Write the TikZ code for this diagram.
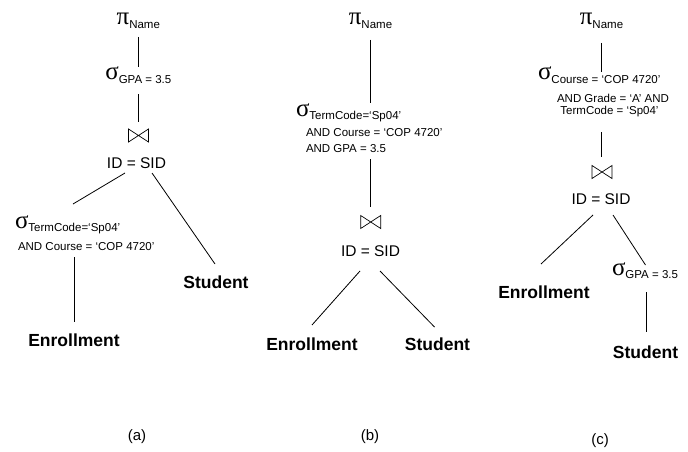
\documentclass[tikz,border=0pt]{standalone}
\usepackage{fontspec}
\setmainfont{Liberation Sans}
\newfontfamily\greekf{Liberation Serif}
\newcommand\Gk[1]{{\greekf\fontsize{25}{25}\selectfont #1}}
\newcommand\Sb[1]{\raisebox{-3.5pt}{\fontsize{11.5}{12}\selectfont #1}}
\tikzset{
  every node/.style={inner sep=0pt, outer sep=0pt},
  btie/.style={minimum width=20pt, minimum height=13pt,
    append after command={
      \pgfextra{\draw[line width=0.7pt, line join=miter]
        (\tikzlastnode.north west) -- (\tikzlastnode.south east) --
        (\tikzlastnode.north east) -- (\tikzlastnode.south west) -- cycle;}}},
  cnd/.style={font=\fontsize{11.5}{12}\selectfont},
  jcond/.style={font=\fontsize{15.5}{16}\selectfont},
  relname/.style={font=\fontsize{17.5}{18}\selectfont\bfseries},
  caplbl/.style={font=\fontsize{15}{16}\selectfont},
  edge/.style={line width=0.8pt, black},
}
\begin{document}
\begin{tikzpicture}[x=1pt,y=-1pt]
\useasboundingbox (0,0) rectangle (688,452);
% ---- tree (a)
\node[anchor=base] (pa) at (138.3,25) {\Gk{π}\Sb{Name}};
\node[anchor=base] (sa1) at (138.3,80) {\Gk{σ}\Sb{GPA = 3.5}};
\node[btie] (ja) at (138.5,135.5) {};
\node[jcond, anchor=base] (jca) at (136.5,168) {ID = SID};
\node[anchor=base west] (sa2) at (15,228) {\Gk{σ}\Sb{TermCode=‘Sp04’}};
\node[cnd, anchor=base west] (sa2c) at (18,250) {AND Course = ‘COP 4720’};
\node[relname, anchor=base] (stua) at (216,288) {Student};
\node[relname, anchor=base] (ea) at (74,346) {Enrollment};
\draw[edge] ([shift={(0,12)}]pa.base) -- ([shift={(0,-13)}]sa1.base);
\draw[edge] ([shift={(0,14)}]sa1.base) -- ([shift={(-0.2,-13.5)}]ja.center);
\draw[edge] ([shift={(-11.5,5)}]jca.base) -- ([shift={(58,-24)}]sa2.base west);
\draw[edge] ([shift={(15.5,5)}]jca.base) -- ([shift={(-1,-24)}]stua.base);
\draw[edge] ([shift={(56,7)}]sa2c.base west) -- ([shift={(0,-24)}]ea.base);
% ---- tree (b)
\node[anchor=base] (pb) at (370.5,25) {\Gk{π}\Sb{Name}};
\node[anchor=base west] (sb1) at (296,116) {\Gk{σ}\Sb{TermCode=‘Sp04’}};
\node[cnd, anchor=base west] (sb2) at (306,136) {AND Course = ‘COP 4720’};
\node[cnd, anchor=base west] (sb3) at (306,152) {AND GPA = 3.5};
\node[btie] (jb) at (370.7,222) {};
\node[jcond, anchor=base] (jcb) at (370.5,256) {ID = SID};
\node[relname, anchor=base] (eb) at (312,350) {Enrollment};
\node[relname, anchor=base] (stub) at (437.5,350) {Student};
\draw[edge] ([shift={(0.2,15)}]pb.base) -- ([shift={(74.7,-13)}]sb1.base west);
\draw[edge] ([shift={(64.7,7)}]sb3.base west) -- ([shift={(0,-15)}]jb.center);
\draw[edge] ([shift={(-10.5,15)}]jcb.base) -- ([shift={(0,-25)}]eb.base);
\draw[edge] ([shift={(9.5,15)}]jcb.base) -- ([shift={(-3,-23)}]stub.base);
% ---- tree (c)
\node[anchor=base] (pc) at (601.5,25) {\Gk{π}\Sb{Name}};
\node[anchor=base west] (sc1) at (538,80) {\Gk{σ}\Sb{Course = ‘COP 4720’}};
\node[cnd, anchor=base] (sc2) at (613,102) {AND Grade = ‘A’ AND};
\node[cnd, anchor=base] (sc3) at (609.5,114) {TermCode = ‘Sp04’};
\node[btie] (jc) at (602,172) {};
\node[jcond, anchor=base] (jcc) at (601,204) {ID = SID};
\node[relname, anchor=base] (ec) at (544,298) {Enrollment};
\node[anchor=base west] (sc4) at (612,275) {\Gk{σ}\Sb{GPA = 3.5}};
\node[relname, anchor=base] (stuc) at (645.5,358) {Student};
\draw[edge] ([shift={(0.2,18)}]pc.base) -- ([shift={(63.7,-8)}]sc1.base west);
\draw[edge] ([shift={(-7.8,18)}]sc3.base) -- ([shift={(-0.3,-15)}]jc.center);
\draw[edge] ([shift={(-8,11)}]jcc.base) -- ([shift={(-3,-34)}]ec.base);
\draw[edge] ([shift={(12,11)}]jcc.base) -- ([shift={(33.5,-10)}]sc4.base west);
\draw[edge] ([shift={(34.7,17)}]sc4.base west) -- ([shift={(1.2,-26)}]stuc.base);
% ---- captions
\node[caplbl] (la) at (137,437) {(a)};
\node[caplbl] (lb) at (370,437) {(b)};
\node[caplbl] (lc) at (600,441) {(c)};
\end{tikzpicture}
\end{document}
